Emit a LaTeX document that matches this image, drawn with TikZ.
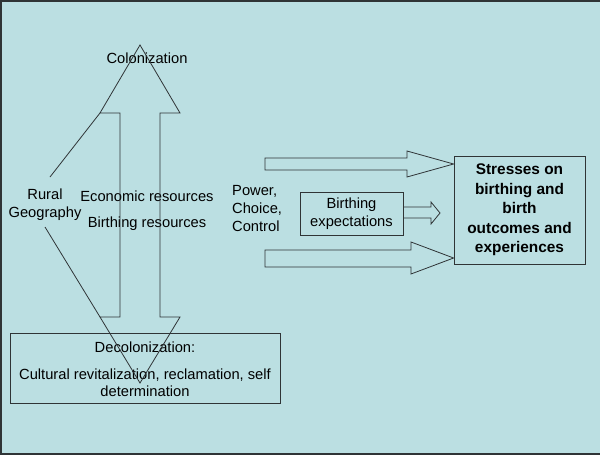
\documentclass[tikz,border=0pt]{standalone}
\usepackage{fontspec}
\setmainfont{Liberation Sans}
\definecolor{bgc}{HTML}{BBDFE2}
\definecolor{lnc}{HTML}{2F3436}
\begin{document}
\begin{tikzpicture}[x=1pt,y=-1pt,
  lbl/.style={inner sep=0pt, font=\fontsize{14.7}{18}\selectfont, text=black, align=center},
  shp/.style={draw=lnc, line width=0.8pt, line join=miter},
  boxed/.style={draw=lnc, line width=0.8pt}]
\useasboundingbox (0,0) rectangle (600,455);
\fill[bgc] (0,0) rectangle (600,455);
\draw[lnc, line width=2pt] (600,1) -- (1,1) -- (1,454) -- (600,454);
% labels
\node[lbl] (colon) at (147,58) {Colonization};
\node[lbl] (rural) at (45,205) {Rural\\Geography};
\node[lbl] (econ) at (147,196) {Economic resources};
\node[lbl] (birth) at (147,224) {Birthing resources};
\node[lbl, align=left, anchor=west] (power) at (232,209) {Power,\\Choice,\\Control};
% boxes
\node[boxed, minimum width=103pt, minimum height=43pt, inner sep=0pt, font=\fontsize{14.7}{18}\selectfont, align=center] (bexp) at (351.5,213.5) {Birthing\\expectations};
\node[boxed, minimum width=131pt, minimum height=108pt, inner sep=0pt, font=\fontsize{15.4}{19.5}\selectfont\bfseries, align=center] (stress) at (519.5,210) {Stresses on\\birthing and\\birth\\outcomes and\\experiences};
\node[boxed, minimum width=270pt, minimum height=70pt, inner sep=0pt] (decol) at (145,368) {};
\node[lbl] (dtitle) at (145,347) {Decolonization:};
\node[lbl, font=\fontsize{14.7}{17}\selectfont] (dtext) at (145,383) {Cultural revitalization, reclamation, self\\determination};
% double arrow
\coordinate (ttip) at (140,45);
\coordinate (btip) at (140,383);
\coordinate (tl) at (100,113);
\coordinate (bl) at (100,317);
\draw[shp] (ttip) -- (180,113) -- (160,113) -- (160,317) -- (180,317) -- (btip) -- (bl) -- (120,317) -- (120,113) -- (tl) -- cycle;
% rural geography lines
\coordinate (ru) at (50,177);
\coordinate (rd) at (45,227);
\draw[shp] (ru) -- (tl);
\draw[shp] (rd) -- (bl);
% right arrows
\draw[shp] (265,158) -- (407,158) -- (407,151) -- (stress.west |- 0,164) -- (407,177) -- (407,170) -- (265,170) -- cycle;
\draw[shp] (265,250) -- (411,250) -- (411,242) -- (stress.west |- 0,258) -- (411,274) -- (411,267) -- (265,267) -- cycle;
\draw[shp] (bexp.east |- 0,207) -- (431,207) -- (431,202) -- (440,213) -- (431,224) -- (431,218) -- (bexp.east |- 0,218);
\end{tikzpicture}
\end{document}
